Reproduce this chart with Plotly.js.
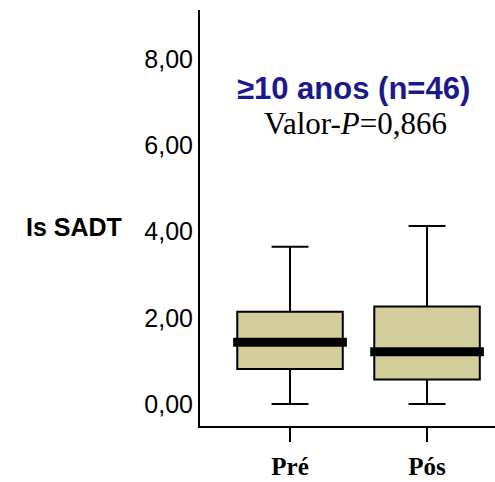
<!DOCTYPE html>
<html>
<head>
<meta charset="utf-8">
<script src="https://cdn.plot.ly/plotly-3.0.1.min.js"></script>
<style>html,body{margin:0;padding:0;background:#fff;}#chart{width:495px;height:482px;}</style>
</head>
<body>
<div id="chart"></div>
<script>
// Data (Is SADT, ≥10 anos, n=46)
const categories = ["Pré", "Pós"];
const lowerWhisker = [0.00, 0.00];
const q1Values = [0.81, 0.57];
const medianValues = [1.43, 1.21];
const q3Values = [2.14, 2.26];
const upperWhisker = [3.65, 4.13];
const yTickValues = [0, 2, 4, 6, 8];

const pos = categories.map((c, i) => i);
const boxWidth = 0.77;

const traces = [{
  type: 'box',
  x: pos,
  q1: q1Values,
  median: medianValues,
  q3: q3Values,
  lowerfence: lowerWhisker,
  upperfence: upperWhisker,
  width: boxWidth,
  whiskerwidth: 0.35,
  fillcolor: 'rgb(211,206,155)',
  line: {color: '#000', width: 2},
  boxpoints: false,
  hoverinfo: 'skip',
  showlegend: false
}];
// thick median lines
categories.forEach((c, i) => {
  traces.push({
    type: 'scatter', mode: 'lines',
    x: [pos[i] - boxWidth / 2 - 0.03, pos[i] + boxWidth / 2 + 0.03],
    y: [medianValues[i], medianValues[i]],
    line: {color: '#000', width: 9},
    hoverinfo: 'skip', showlegend: false
  });
});

const layout = {
  width: 495, height: 482,
  margin: {l: 200, r: 0, t: 10, b: 56},
  paper_bgcolor: '#fff', plot_bgcolor: '#fff',
  separators: ',.',
  xaxis: {
    range: [-0.657, 1.496],
    tickmode: 'array', tickvals: pos, ticktext: categories.map(c => '<b>' + c + '</b>'),
    showline: true, linecolor: '#000', linewidth: 2,
    ticks: 'outside', ticklen: 14, tickwidth: 2, tickcolor: '#000',
    showgrid: false, zeroline: false,
    tickfont: {family: 'Liberation Serif, Times New Roman, serif', size: 25, color: '#000'},
    ticklabelstandoff: 3
  },
  yaxis: {
    range: [-0.51, 9.14],
    tickmode: 'array', tickvals: yTickValues, tickformat: '.2f',
    showline: true, linecolor: '#000', linewidth: 2,
    ticks: '', showgrid: false, zeroline: false,
    tickfont: {family: 'Liberation Sans, Arial, sans-serif', size: 25, color: '#000'}
  },
  annotations: [
    {text: '<b>Is SADT</b>', xref: 'paper', yref: 'y', x: 0, y: 4.1, xanchor: 'right', yanchor: 'middle', xshift: -76, showarrow: false,
     font: {family: 'Liberation Sans, Arial, sans-serif', size: 25, color: '#000'}},
    {text: '<b>≥10 anos (n=46)</b>', xref: 'paper', yref: 'y', x: 0.522, y: 7.31, xanchor: 'center', yanchor: 'middle', showarrow: false,
     font: {family: 'Liberation Sans, Arial, sans-serif', size: 31, color: 'rgb(26,26,140)'}},
    {text: 'Valor-<i>P</i>=0,866', xref: 'paper', yref: 'y', x: 0.526, y: 6.5, xanchor: 'center', yanchor: 'middle', showarrow: false,
     font: {family: 'Liberation Serif, Times New Roman, serif', size: 31, color: '#000'}}
  ]
};

Plotly.newPlot('chart', traces, layout, {staticPlot: true, displayModeBar: false});
</script>
</body>
</html>
